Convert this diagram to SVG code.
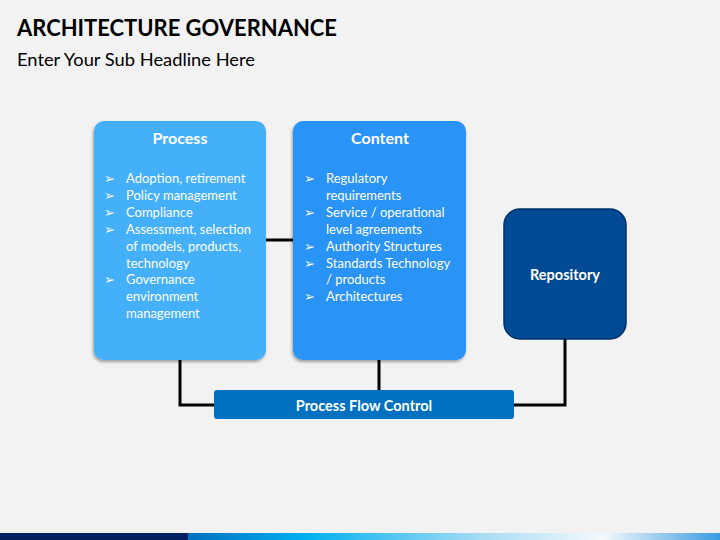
<svg xmlns="http://www.w3.org/2000/svg" width="720" height="540" viewBox="0 0 720 540">
<defs>
<style>
.t{font-family:Lato,"Open Sans","Liberation Sans",sans-serif;fill:#fff}
.h{font-weight:bold;font-size:16px;text-anchor:middle}
.b{font-size:13px}
.bl{font-family:"DejaVu Sans",sans-serif;font-size:13px;fill:#fff}
.ln{stroke:#000;stroke-width:3;fill:none}
</style>
<linearGradient id="bar" x1="0" x2="1" y1="0" y2="0">
<stop offset="0" stop-color="#0070c0"/>
<stop offset="0.22" stop-color="#00b0f0"/>
<stop offset="0.55" stop-color="#a6dcf5"/>
<stop offset="0.78" stop-color="#f5f9fc"/>
<stop offset="1" stop-color="#3a9be0"/>
</linearGradient>
<filter id="sh" x="-10%" y="-10%" width="120%" height="120%">
<feDropShadow dx="-1" dy="2" stdDeviation="1.5" flood-color="#000" flood-opacity="0.35"/>
</filter>
</defs>
<rect width="720" height="540" fill="#f2f2f2"/>
<rect x="0" y="533" width="188" height="7" fill="#002060"/>
<rect x="188" y="533" width="532" height="7" fill="url(#bar)"/>
<text x="17" y="36" font-family="Lato,'Open Sans','Liberation Sans',sans-serif" font-weight="bold" font-size="23" fill="#000" textLength="320" lengthAdjust="spacingAndGlyphs">ARCHITECTURE GOVERNANCE</text>
<text x="17" y="66" font-family="Lato,'Open Sans','Liberation Sans',sans-serif" font-size="18" fill="#000" textLength="238" lengthAdjust="spacingAndGlyphs">Enter Your Sub Headline Here</text>
<g id="connectors">
<line class="ln" x1="266" y1="240" x2="293" y2="240"/>
<polyline class="ln" points="180,360 180,405 214,405"/>
<line class="ln" x1="379" y1="360" x2="379" y2="390"/>
<polyline class="ln" points="565,339 565,405 514,405"/>
</g>
<g id="process">
<rect x="94" y="121" width="172" height="239" rx="10" fill="#45b0fa" filter="url(#sh)"/>
<text class="t h" x="180" y="144">Process</text>
<g class="bl"><text x="104" y="183">➢</text><text x="104" y="200">➢</text><text x="104" y="217">➢</text><text x="104" y="234">➢</text><text x="104" y="284">➢</text></g>
<g class="t b">
<text x="126" y="183">Adoption, retirement</text>
<text x="126" y="200">Policy management</text>
<text x="126" y="217">Compliance</text>
<text x="126" y="234">Assessment, selection</text>
<text x="126" y="251">of models, products,</text>
<text x="126" y="268">technology</text>
<text x="126" y="284">Governance</text>
<text x="126" y="301">environment</text>
<text x="126" y="318">management</text>
</g>
</g>
<g id="content">
<rect x="293" y="121" width="173" height="239" rx="10" fill="#2b93f6" filter="url(#sh)"/>
<text class="t h" x="380" y="144">Content</text>
<g class="bl"><text x="304" y="183">➢</text><text x="304" y="217">➢</text><text x="304" y="251">➢</text><text x="304" y="268">➢</text><text x="304" y="301">➢</text></g>
<g class="t b">
<text x="326" y="183">Regulatory</text>
<text x="326" y="200">requirements</text>
<text x="326" y="217">Service / operational</text>
<text x="326" y="234">level agreements</text>
<text x="326" y="251">Authority Structures</text>
<text x="326" y="268">Standards Technology</text>
<text x="326" y="284">/ products</text>
<text x="326" y="301">Architectures</text>
</g>
</g>
<g id="repository">
<rect x="504" y="209" width="122" height="130" rx="16" fill="#034a94" stroke="#022f66" stroke-width="1.5"/>
<text class="t" x="565" y="280" font-weight="bold" font-size="14.5" text-anchor="middle">Repository</text>
</g>
<g id="process-flow-control">
<rect x="214" y="390" width="300" height="29" rx="3" fill="#0070c0"/>
<text class="t" x="364" y="411" font-weight="bold" font-size="14.5" text-anchor="middle">Process Flow Control</text>
</g>
</svg>
